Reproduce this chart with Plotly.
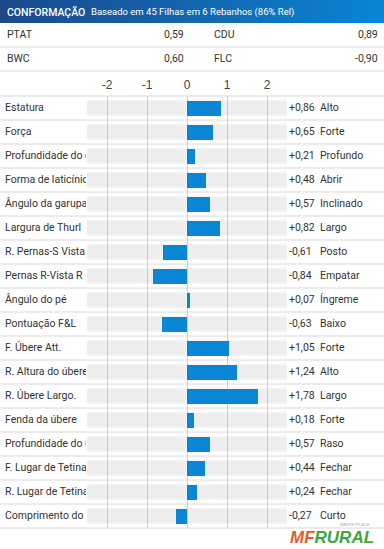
import plotly.graph_objects as go

# ---------------- data ----------------
title = "CONFORMAÇÃO"
subtitle = "Baseado em 45 Filhas em 6 Rebanhos (86% Rel)"

summary_left_names = ["PTAT", "BWC"]
summary_left_values = ["0,59", "0,60"]
summary_right_names = ["CDU", "FLC"]
summary_right_values = ["0,89", "-0,90"]

categories = [
    "Estatura", "Força", "Profundidade do corpo", "Forma de laticínio",
    "Ângulo da garupa", "Largura de Thurl", "R. Pernas-S Vista",
    "Pernas R-Vista R", "Ângulo do pé", "Pontuação F&L", "F. Úbere Att.",
    "R. Altura do úbere", "R. Úbere Largo.", "Fenda da úbere",
    "Profundidade do úbere", "F. Lugar de Tetina", "R. Lugar de Tetina",
    "Comprimento do teto",
]
values = [0.86, 0.65, 0.21, 0.48, 0.57, 0.82, -0.61, -0.84, 0.07, -0.63,
          1.05, 1.24, 1.78, 0.18, 0.57, 0.44, 0.24, -0.27]
descriptors = ["Alto", "Forte", "Profundo", "Abrir", "Inclinado", "Largo",
               "Posto", "Empatar", "Íngreme", "Baixo", "Forte", "Alto",
               "Largo", "Forte", "Raso", "Fechar", "Fechar", "Curto"]

tick_values = [-2, -1, 0, 1, 2]
tick_labels = ["-2", "-1", "0", "1", "2"]

# ---------------- layout constants ----------------
W, H = 384, 549
n = len(categories)
rows = list(range(n))
top_px, row_h = 96, 24
bottom_px = top_px + n * row_h
px_per_unit = 40.0
zero_px = 187.0

FONT = "Roboto, Liberation Sans, Arial, sans-serif"
TXT = "#333333"
FS = 10.5


def py(p):
    return 1 - p / H


def px(p):
    return p / W


def fmt(v):
    return f"{v:+.2f}".replace(".", ",")


fig = go.Figure()

# bars
fig.add_trace(go.Bar(
    x=values, y=rows, orientation="h", width=0.625,
    marker=dict(color="#0a86d4", line=dict(width=0)),
    xaxis="x", yaxis="y", hoverinfo="skip", showlegend=False,
))

# value texts
fig.add_trace(go.Scatter(
    x=[(289 - zero_px) / px_per_unit] * n, y=rows, mode="text",
    text=[fmt(v) for v in values], textposition="middle right",
    textfont=dict(family=FONT, size=FS, color=TXT),
    xaxis="x", yaxis="y", cliponaxis=False, hoverinfo="skip", showlegend=False,
))
# descriptor texts
fig.add_trace(go.Scatter(
    x=[(320 - zero_px) / px_per_unit] * n, y=rows, mode="text",
    text=descriptors, textposition="middle right",
    textfont=dict(family=FONT, size=FS, color=TXT),
    xaxis="x", yaxis="y", cliponaxis=False, hoverinfo="skip", showlegend=False,
))
# category labels (clipped like the original)
fig.add_trace(go.Scatter(
    x=[5] * n, y=rows, mode="text",
    text=categories, textposition="middle right",
    textfont=dict(family=FONT, size=FS, color=TXT),
    xaxis="x2", yaxis="y2", cliponaxis=True, hoverinfo="skip", showlegend=False,
))

shapes = []
# header gradient
c0 = (27, 73, 140)
c1 = (10, 132, 212)
strips = 48
sw = W / strips
for k in range(strips):
    t = k / (strips - 1)
    c = tuple(int(round(c0[j] + (c1[j] - c0[j]) * t)) for j in range(3))
    shapes.append(dict(type="rect", xref="paper", yref="paper",
                       x0=px(k * sw), x1=px((k + 1) * sw + 0.6),
                       y0=py(23), y1=py(0),
                       fillcolor=f"rgb{c}", line=dict(width=0), layer="below"))

# gray tracks
for i in rows:
    shapes.append(dict(type="rect", xref="x", yref="y",
                       x0=-2.5, x1=2.5, y0=i - 0.3125, y1=i + 0.3125,
                       fillcolor="#eeeeee", line=dict(width=0), layer="below"))

# separators
for p in [47, 71] + [top_px + k * row_h for k in range(n + 1)]:
    shapes.append(dict(type="line", xref="paper", yref="paper",
                       x0=0, x1=1, y0=py(p), y1=py(p),
                       line=dict(color="#dadada", width=1), layer="below"))

annotations = [
    dict(x=px(5), y=py(12), xref="paper", yref="paper", text=title,
         showarrow=False, xanchor="left", yanchor="middle",
         font=dict(family=FONT, size=10.5, color="white", weight=500)),
    dict(x=px(89), y=py(12.5), xref="paper", yref="paper", text=subtitle,
         showarrow=False, xanchor="left", yanchor="middle",
         font=dict(family=FONT, size=9.5, color="white")),
]
for k in range(len(summary_left_names)):
    yc = py(34 + 24 * k)
    annotations += [
        dict(x=px(5), y=yc, xref="paper", yref="paper", text=summary_left_names[k],
             showarrow=False, xanchor="left", yanchor="middle",
             font=dict(family=FONT, size=FS, color=TXT)),
        dict(x=px(186), y=yc, xref="paper", yref="paper", text=summary_left_values[k],
             showarrow=False, xanchor="right", yanchor="middle",
             font=dict(family=FONT, size=FS, color=TXT)),
        dict(x=px(212), y=yc, xref="paper", yref="paper", text=summary_right_names[k],
             showarrow=False, xanchor="left", yanchor="middle",
             font=dict(family=FONT, size=FS, color=TXT)),
        dict(x=px(380), y=yc, xref="paper", yref="paper", text=summary_right_values[k],
             showarrow=False, xanchor="right", yanchor="middle",
             font=dict(family=FONT, size=FS, color=TXT)),
    ]
# watermark
annotations += [
    dict(x=px(376), y=py(537), xref="paper", yref="paper",
         text="<b><i><span style='color:#e85a2c'>MF</span>"
              "<span style='color:#3ea540'>RURAL</span></i></b>",
         showarrow=False, xanchor="right", yanchor="middle",
         font=dict(family="Liberation Sans, Arial, sans-serif", size=17)),
    dict(x=px(372), y=py(524), xref="paper", yref="paper", text="MARKETPLACE",
         showarrow=False, xanchor="right", yanchor="middle",
         font=dict(family="Liberation Sans, Arial, sans-serif", size=4, color="#aaaaaa")),
]

ydom = [py(bottom_px), py(top_px)]
fig.update_layout(
    width=W, height=H,
    margin=dict(l=0, r=0, t=0, b=0),
    paper_bgcolor="white", plot_bgcolor="rgba(0,0,0,0)",
    showlegend=False, bargap=0,
    shapes=shapes, annotations=annotations,
    xaxis=dict(domain=[0, 1], range=[-zero_px / px_per_unit, (W - zero_px) / px_per_unit],
               tickvals=tick_values, ticktext=tick_labels, side="top",
               showgrid=True, gridcolor="#cccccc", gridwidth=1, zeroline=False,
               showline=False, ticks="", anchor="y", fixedrange=True,
               ticklabelstandoff=4,
               tickfont=dict(family="Liberation Sans, Arial, sans-serif", size=12, color="#444444")),
    yaxis=dict(domain=ydom, range=[n - 0.5, -0.5], visible=False, showgrid=False,
               zeroline=False, anchor="x", fixedrange=True),
    xaxis2=dict(domain=[0, px(86)], range=[0, 86], visible=False, showgrid=False,
                zeroline=False, anchor="y2", fixedrange=True),
    yaxis2=dict(domain=ydom, range=[n - 0.5, -0.5], visible=False, showgrid=False,
                zeroline=False, anchor="x2", fixedrange=True),
)

fig.write_html(
    "out.html",
    config={"displayModeBar": False},
    post_script="document.body.style.margin='0';document.body.style.overflow='hidden';",
)
